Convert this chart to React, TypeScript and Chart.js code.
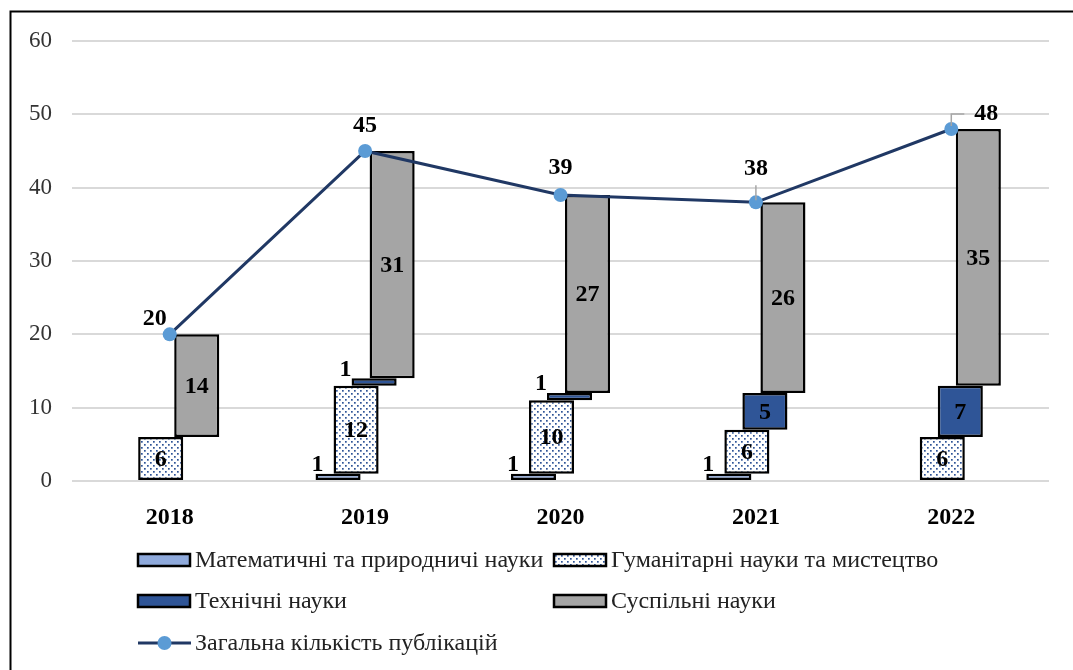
import React, { useEffect, useRef } from 'react';
import { Chart, registerables } from 'chart.js';

Chart.register(...registerables);

// ---- Data ----
const years = ['2018', '2019', '2020', '2021', '2022'];
const mathSci = [0, 1, 1, 1, 0];
const humanities = [6, 12, 10, 6, 6];
const technical = [0, 1, 1, 5, 7];
const social = [14, 31, 27, 26, 35];
const totals = [20, 45, 39, 38, 48];
const seriesNames = [
  'Математичні та природничі науки',
  'Гуманітарні науки та мистецтво',
  'Технічні науки',
  'Суспільні науки',
];
const totalName = 'Загальна кількість публікацій';
const yMin = 0;
const yMax = 60;
const yStep = 10;

// ---- Label placement (style, not data) ----
const totalLabelOffsets = [[-15, -16], [0, -25], [0, -27], [0, -34], [35, -15]];
const totalLeader = [false, false, false, true, true];
const smallLabelDx = [2, 0, -6, 0];

const FONT = '"Liberation Serif", "Times New Roman", serif';
const C_MATH = '#8FAADC';
const C_TECH = '#2F5597';
const C_SOC = '#A5A5A5';
const C_LINE = '#203864';
const C_POINT = '#5B9BD5';

function makeDots(): CanvasPattern | string {
  const c = document.createElement('canvas');
  c.width = 6;
  c.height = 6;
  const g = c.getContext('2d');
  if (!g) return '#fff';
  g.fillStyle = '#ffffff';
  g.fillRect(0, 0, 6, 6);
  g.fillStyle = '#2F5597';
  g.fillRect(0, 0, 1.7, 1.7);
  g.fillRect(3, 3, 1.7, 1.7);
  const p = g.createPattern(c, 'repeat');
  return p || '#fff';
}

function floating(series: number[][], idx: number) {
  return years.map((_, j) => {
    let start = 0;
    for (let k = 0; k < idx; k++) start += series[k][j];
    const v = series[idx][j];
    return v ? [start, start + v] : null;
  });
}

export default function App() {
  const ref = useRef<HTMLCanvasElement | null>(null);

  useEffect(() => {
    if (!ref.current) return;
    const dots = makeDots();
    const series = [mathSci, humanities, technical, social];
    const fills: any[] = [C_MATH, dots, C_TECH, C_SOC];

    const bgPlugin = {
      id: 'bgFrame',
      beforeDraw(chart: any) {
        const ctx = chart.ctx;
        ctx.save();
        ctx.fillStyle = '#fff';
        ctx.fillRect(0, 0, chart.width, chart.height);
        ctx.restore();
      },
      afterDraw(chart: any) {
        const ctx = chart.ctx;
        ctx.save();
        ctx.strokeStyle = '#000';
        ctx.lineWidth = 2;
        ctx.beginPath();
        ctx.moveTo(10.5, chart.height);
        ctx.lineTo(10.5, 11.5);
        ctx.lineTo(chart.width, 11.5);
        ctx.stroke();
        ctx.restore();
      },
    };

    const labelPlugin = {
      id: 'valueLabels',
      afterDatasetsDraw(chart: any) {
        const ctx = chart.ctx;
        ctx.save();
        ctx.font = `bold 24px ${FONT}`;
        ctx.fillStyle = '#000';
        ctx.textAlign = 'center';
        ctx.textBaseline = 'middle';
        for (let i = 0; i < 4; i++) {
          const meta = chart.getDatasetMeta(i);
          meta.data.forEach((el: any, j: number) => {
            const v = series[i][j];
            if (!v) return;
            const top = Math.min(el.y, el.base);
            const bottom = Math.max(el.y, el.base);
            const left = el.x - el.width / 2;
            if (v >= 3) {
              ctx.fillText(String(v), el.x, (top + bottom) / 2 + 1);
            } else {
              ctx.fillText(String(v), left + smallLabelDx[i], top - 9);
            }
          });
        }
        const lmeta = chart.getDatasetMeta(4);
        lmeta.data.forEach((pt: any, j: number) => {
          const [dx, dy] = totalLabelOffsets[j];
          if (totalLeader[j]) {
            ctx.save();
            ctx.strokeStyle = '#A6A6A6';
            ctx.lineWidth = 1.5;
            ctx.beginPath();
            if (dx === 0) {
              ctx.moveTo(pt.x, pt.y - 2);
              ctx.lineTo(pt.x, pt.y - 17);
            } else {
              ctx.moveTo(pt.x, pt.y - 3);
              ctx.lineTo(pt.x, pt.y - 15);
              ctx.lineTo(pt.x + 13, pt.y - 15);
            }
            ctx.stroke();
            ctx.restore();
          }
          ctx.fillText(String(totals[j]), pt.x + dx, pt.y + dy);
        });
        ctx.restore();
      },
    };

    const legendPlugin = {
      id: 'gridLegend',
      afterDraw(chart: any) {
        const ctx = chart.ctx;
        ctx.save();
        const rows = [560, 601, 643];
        const cols = [138, 554];
        const items = [
          { name: seriesNames[0], fill: C_MATH, r: 0, c: 0 },
          { name: seriesNames[1], fill: dots, r: 0, c: 1 },
          { name: seriesNames[2], fill: C_TECH, r: 1, c: 0 },
          { name: seriesNames[3], fill: C_SOC, r: 1, c: 1 },
        ];
        ctx.font = `24px ${FONT}`;
        ctx.textBaseline = 'middle';
        ctx.textAlign = 'left';
        items.forEach((it) => {
          const x = cols[it.c];
          const y = rows[it.r];
          ctx.fillStyle = it.fill as any;
          ctx.fillRect(x, y - 6, 52, 12);
          ctx.strokeStyle = '#000';
          ctx.lineWidth = 2.5;
          ctx.strokeRect(x, y - 6, 52, 12);
          ctx.fillStyle = '#222';
          ctx.fillText(it.name, x + 57, y + 1);
        });
        const y = rows[2];
        const x = cols[0];
        ctx.strokeStyle = C_LINE;
        ctx.lineWidth = 3;
        ctx.beginPath();
        ctx.moveTo(x, y);
        ctx.lineTo(x + 53, y);
        ctx.stroke();
        ctx.fillStyle = C_POINT;
        ctx.beginPath();
        ctx.arc(x + 26.5, y, 7, 0, Math.PI * 2);
        ctx.fill();
        ctx.fillStyle = '#222';
        ctx.fillText(totalName, x + 57, y + 1);
        ctx.restore();
      },
    };

    const barDatasets = series.map((_, i) => ({
      type: 'bar' as const,
      label: seriesNames[i],
      data: floating(series, i) as any,
      backgroundColor: fills[i],
      borderColor: '#000',
      borderWidth: 2.5,
      borderSkipped: false,
      categoryPercentage: 0.369,
      barPercentage: 2.5,
      order: 1,
    }));

    const chart = new Chart(ref.current, {
      type: 'bar',
      data: {
        labels: years,
        datasets: [
          ...barDatasets,
          {
            type: 'line' as const,
            label: totalName,
            data: totals,
            borderColor: C_LINE,
            borderWidth: 3,
            pointRadius: 7,
            pointBackgroundColor: C_POINT,
            pointBorderColor: C_POINT,
            pointBorderWidth: 0,
            tension: 0,
            order: 0,
          } as any,
        ],
      },
      options: {
        animation: false,
        responsive: true,
        maintainAspectRatio: false,
        layout: { padding: { top: 41, right: 24, left: 0, bottom: 0 } },
        plugins: { legend: { display: false }, tooltip: { enabled: false } },
        scales: {
          x: {
            grid: { display: false },
            border: { display: false },
            ticks: { font: { family: FONT, size: 24, weight: 'bold' }, color: '#000', padding: 14 },
            afterFit(scale: any) {
              scale.height = 189;
            },
          },
          y: {
            min: yMin,
            max: yMax,
            ticks: { stepSize: yStep, font: { family: FONT, size: 23 }, color: '#333', padding: 20 },
            grid: { color: '#D9D9D9', lineWidth: 2, drawTicks: false },
            border: { display: false },
            afterFit(scale: any) {
              scale.width = 72;
            },
          },
        },
      },
      plugins: [bgPlugin, labelPlugin, legendPlugin],
    });
    return () => chart.destroy();
  }, []);

  return (
    <div style={{ position: 'fixed', left: 0, top: 0, width: 1073, height: 670 }}>
      <canvas ref={ref} />
    </div>
  );
}
